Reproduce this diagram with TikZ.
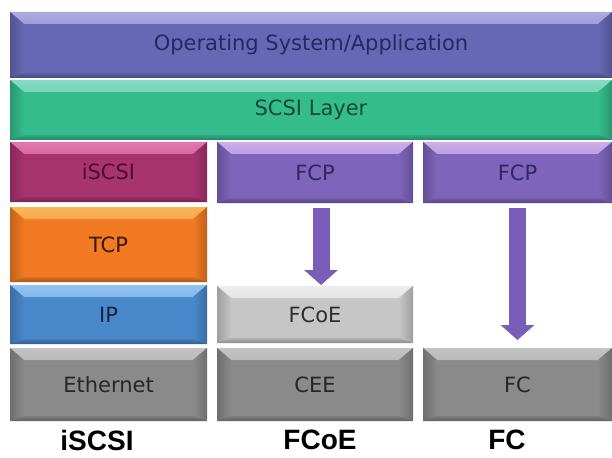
\documentclass[tikz,border=0pt]{standalone}
\usepackage{fontspec}
\setmainfont{DejaVu Sans}
\newfontfamily\captionfont{Liberation Sans}
\usetikzlibrary{arrows.meta}

% layer colours: base, top highlight, text
\definecolor{osBase}{HTML}{6568B5}\definecolor{osTop}{HTML}{ABAAE2}\definecolor{osText}{HTML}{262866}
\definecolor{scBase}{HTML}{34BC8D}\definecolor{scTop}{HTML}{86DBC2}\definecolor{scText}{HTML}{17483A}
\definecolor{isBase}{HTML}{A7336F}\definecolor{isTop}{HTML}{E277B0}\definecolor{isText}{HTML}{4E0D36}
\definecolor{fpBase}{HTML}{7E64BA}\definecolor{fpTop}{HTML}{CDAEEA}\definecolor{fpText}{HTML}{302660}
\definecolor{tcBase}{HTML}{F17A22}\definecolor{tcTop}{HTML}{F9B457}\definecolor{tcText}{HTML}{3A1800}
\definecolor{ipBase}{HTML}{4A88CC}\definecolor{ipTop}{HTML}{92C4F2}\definecolor{ipText}{HTML}{16243E}
\definecolor{lgBase}{HTML}{C6C6C6}\definecolor{lgTop}{HTML}{EDEDED}\definecolor{lgText}{HTML}{2E2E2E}
\definecolor{dgBase}{HTML}{8A8A8A}\definecolor{dgTop}{HTML}{C4C4C4}\definecolor{dgText}{HTML}{262626}
\definecolor{flowCol}{HTML}{7A5DB9}

% bevelled button face drawn inside a layer node
\newcommand\bevelface[2]{%
  \shade[top color=#2, bottom color=#1]
    (path picture bounding box.north west) -- (path picture bounding box.north east)
    -- ([xshift=-14pt,yshift=-12pt]path picture bounding box.north east)
    -- ([xshift=14pt,yshift=-12pt]path picture bounding box.north west) -- cycle;
  \shade[left color=#1!80!black, right color=#1]
    (path picture bounding box.north west)
    -- ([xshift=14pt,yshift=-12pt]path picture bounding box.north west)
    -- ([xshift=14pt,yshift=5pt]path picture bounding box.south west)
    -- (path picture bounding box.south west) -- cycle;
  \shade[right color=#1!80!black, left color=#1]
    (path picture bounding box.north east)
    -- ([xshift=-14pt,yshift=-12pt]path picture bounding box.north east)
    -- ([xshift=-14pt,yshift=5pt]path picture bounding box.south east)
    -- (path picture bounding box.south east) -- cycle;
  \shade[top color=#1!90!black, bottom color=#1!70!black]
    (path picture bounding box.south west)
    -- ([xshift=14pt,yshift=5pt]path picture bounding box.south west)
    -- ([xshift=-14pt,yshift=5pt]path picture bounding box.south east)
    -- (path picture bounding box.south east) -- cycle;
}

\tikzset{
  layer/.style n args={3}{draw=none, inner sep=0pt, outer sep=0pt, fill=#1, text=#3,
    font=\fontsize{21}{24}\selectfont, path picture={\bevelface{#1}{#2}}},
  caption/.style={font=\captionfont\bfseries\fontsize{28}{32}\selectfont, text=black, inner sep=0pt},
  flow/.style={draw=flowCol, line width=17pt,
    -{Triangle[width=33pt,length=15pt]}}
}

% \layerbox{name}{x1}{y1}{x2}{y2}{base}{top}{text}{label}
\newcommand\layerbox[9]{%
  \node[layer={#6}{#7}{#8}, minimum width={#4pt-#2pt}, minimum height={#5pt-#3pt}]
    (#1) at ({(#2+#4)/2},{(#3+#5)/2}) {#9};
}

\begin{document}
\begin{tikzpicture}[x=1pt,y=-1pt]
  \useasboundingbox (0,0) rectangle (612,457);
  \fill[white] (0,0) rectangle (612,457);

  \layerbox{os}{10}{12}{612}{78}{osBase}{osTop}{osText}{Operating System/Application}
  \layerbox{scsi}{10}{80}{612}{140}{scBase}{scTop}{scText}{SCSI Layer}

  \layerbox{iscsi}{10}{142}{207}{202}{isBase}{isTop}{isText}{iSCSI}
  \layerbox{fcpA}{217}{142}{413}{203}{fpBase}{fpTop}{fpText}{FCP}
  \layerbox{fcpB}{423}{142}{612}{203}{fpBase}{fpTop}{fpText}{FCP}

  \layerbox{tcp}{10}{207}{207}{282}{tcBase}{tcTop}{tcText}{TCP}
  \layerbox{ip}{10}{285}{207}{344}{ipBase}{ipTop}{ipText}{IP}
  \layerbox{fcoe}{217}{286}{413}{343}{lgBase}{lgTop}{lgText}{FCoE}

  \layerbox{eth}{10}{348}{207}{421}{dgBase}{dgTop}{dgText}{Ethernet}
  \layerbox{cee}{217}{348}{413}{421}{dgBase}{dgTop}{dgText}{CEE}
  \layerbox{fc}{423}{348}{612}{421}{dgBase}{dgTop}{dgText}{FC}

  % FCP carried down onto FCoE and native FC
  \draw[flow] ([xshift=6pt,yshift=-5pt]fcpA.south) -- ([xshift=6pt,yshift=1pt]fcoe.north);
  \draw[flow] ([yshift=-5pt]fcpB.south) -- ([yshift=8pt]fc.north);

  % stack names
  \node[caption] (capIscsi) at (97,440) {iSCSI};
  \node[caption] (capFcoe) at (320,440) {FCoE};
  \node[caption] (capFc) at (507,440) {FC};
\end{tikzpicture}
\end{document}
